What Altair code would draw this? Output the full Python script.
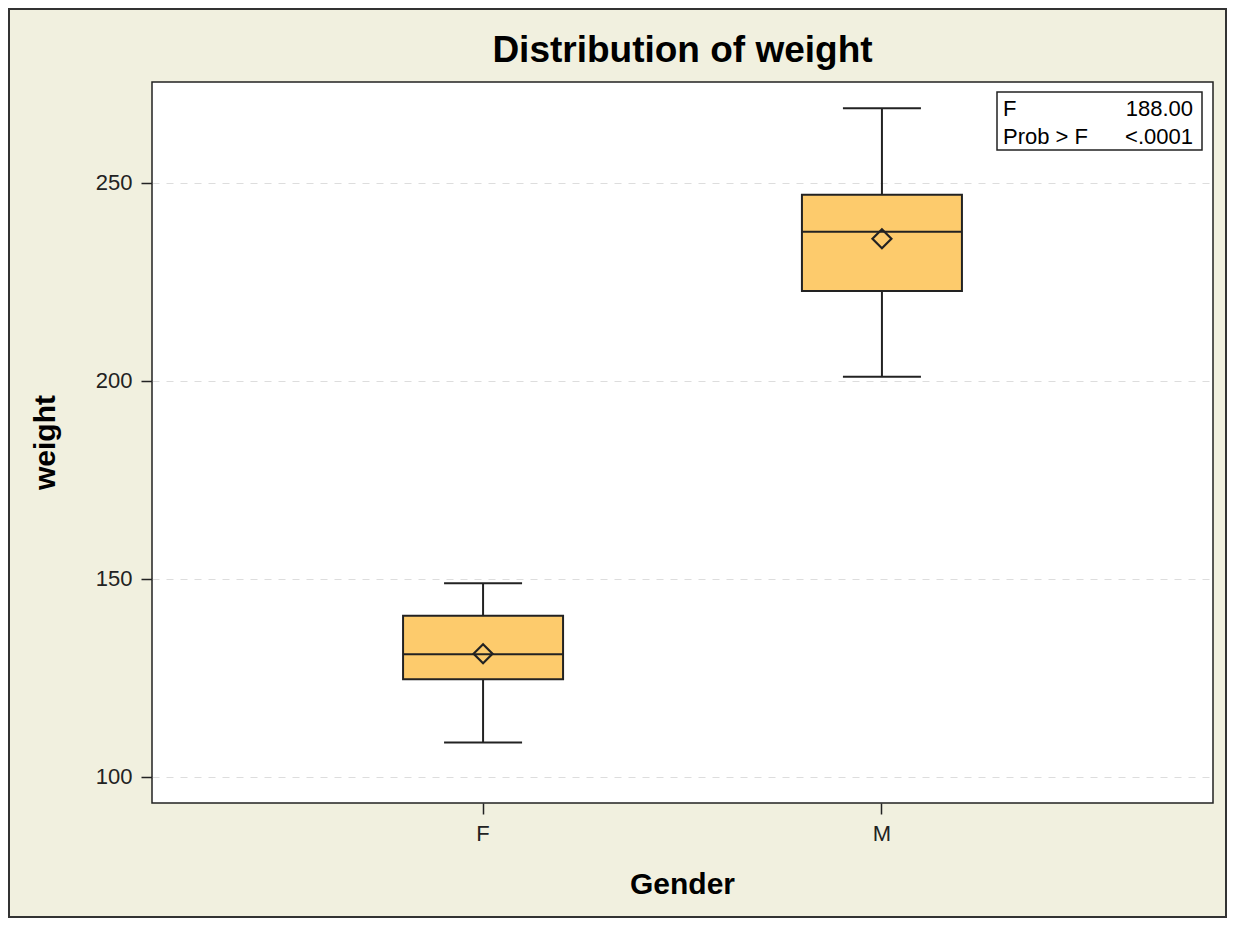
import altair as alt
import pandas as pd

genders = ["F", "M"]
whisker_low = [108.7, 201.1]
q1 = [124.7, 222.7]
median = [131.0, 237.7]
q3 = [140.7, 247.0]
whisker_high = [148.9, 268.9]
mean = [131.1, 235.9]

y_ticks = [100, 150, 200, 250]
title_text = "Distribution of weight"
inset_labels = ["F", "Prob > F"]
inset_values = ["188.00", "<.0001"]

df = pd.DataFrame({
    "gender": genders, "lo": whisker_low, "q1": q1, "med": median,
    "q3": q3, "hi": whisker_high, "mean": mean,
})

FONT = "Liberation Sans"
W, H = 1061, 721
BOX_FILL = "#FDCB6C"
DARK = "#222222"

xenc = alt.X("gender:N", title="Gender",
             scale=alt.Scale(paddingInner=0, paddingOuter=0.33),
             axis=alt.Axis(labelAngle=0, titleX=530, titleY=90,
                           titleBaseline="alphabetic", titleAlign="center"))
yscale = alt.Scale(domain=[93.43, 275.5], nice=False, zero=False)
yaxis = alt.Axis(values=y_ticks, title="weight", titleAngle=270,
                 titleX=-107, titleY=360, titleAlign="center",
                 titleBaseline="middle", grid=True)

base = alt.Chart(df)

whisk = base.mark_rule(color=DARK, strokeWidth=2).encode(
    x=xenc, y=alt.Y("lo:Q", scale=yscale, axis=yaxis), y2="hi:Q")
cap_lo = base.mark_tick(color=DARK, size=78, thickness=2, opacity=1).encode(x=xenc, y="lo:Q")
cap_hi = base.mark_tick(color=DARK, size=78, thickness=2, opacity=1).encode(x=xenc, y="hi:Q")
box = base.mark_bar(size=160, fill=BOX_FILL, stroke=DARK, strokeWidth=2).encode(
    x=xenc, y="q1:Q", y2="q3:Q")
med = base.mark_tick(color=DARK, size=160, thickness=2, opacity=1).encode(x=xenc, y="med:Q")
mn = base.mark_point(shape="diamond", size=360, filled=False, color=DARK,
                     strokeWidth=2.2, opacity=1).encode(x=xenc, y="mean:Q")

one = alt.Chart(pd.DataFrame({"t": [title_text]}))
title = one.mark_text(font=FONT, fontSize=37, fontWeight="bold", color="black",
                      align="center", baseline="alphabetic").encode(
    text="t:N", x=alt.value(W / 2), y=alt.value(-20))

inset_box = one.mark_rect(fillOpacity=0, stroke=DARK, strokeWidth=1.5).encode(
    x=alt.value(845), x2=alt.value(1050), y=alt.value(10), y2=alt.value(68))

inset_layers = []
for i, (lab, val) in enumerate(zip(inset_labels, inset_values)):
    d = alt.Chart(pd.DataFrame({"lab": [lab], "val": [val]}))
    yy = 34 + i * 28
    inset_layers.append(d.mark_text(font=FONT, fontSize=22, color="black", align="left",
                                    baseline="alphabetic").encode(
        text="lab:N", x=alt.value(851), y=alt.value(yy)))
    inset_layers.append(d.mark_text(font=FONT, fontSize=22, color="black", align="right",
                                    baseline="alphabetic").encode(
        text="val:N", x=alt.value(1041), y=alt.value(yy)))

BOTTOM = 115
RIGHT = 14
outer = one.mark_rect(fillOpacity=0, stroke="#333333", strokeWidth=2, clip=False).encode(
    x=alt.value(-143), x2=alt.value(W + RIGHT - 1), y=alt.value(-73), y2=alt.value(H + BOTTOM - 1))

chart = alt.layer(outer, whisk, cap_lo, cap_hi, box, med, mn, title, inset_box,
                  *inset_layers).properties(
    width=W, height=H,
    autosize=alt.AutoSizeParams(type="none"),
    padding={"left": 144, "top": 74, "right": RIGHT, "bottom": BOTTOM},
).configure(
    background="#F1F0DF",
).configure_view(
    fill="white", stroke=DARK, strokeWidth=1.5,
).configure_axis(
    labelFont=FONT, labelFontSize=22, labelColor="#222222",
    titleFont=FONT, titleFontSize=30, titleFontWeight="bold", titleColor="black",
    domain=False, tickColor=DARK, tickSize=11, tickWidth=1.5,
    labelPadding=9, gridColor="#DDDDDD", gridDash=[7, 7], gridWidth=1,
)

chart.save("out.html", embed_options={"renderer": "svg", "actions": False})
